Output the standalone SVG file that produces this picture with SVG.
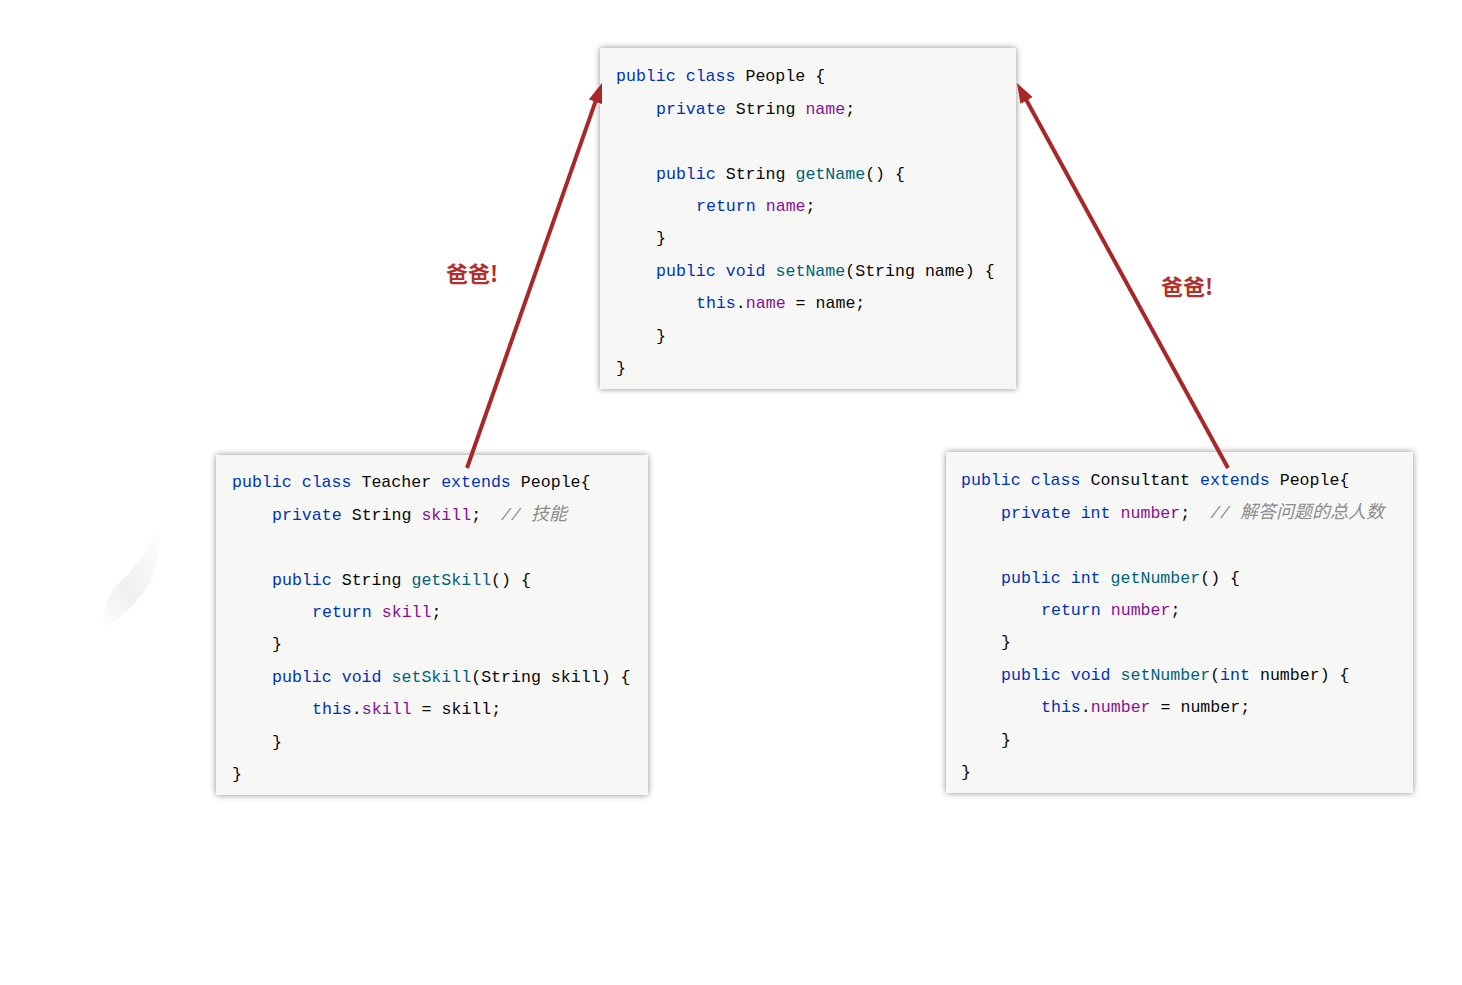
<svg xmlns="http://www.w3.org/2000/svg" width="1462" height="985" viewBox="0 0 1462 985">
<defs>
<style>
.box{fill:#f7f8f6;filter:url(#sh);}
.code{font-family:"Liberation Mono","DejaVu Sans Mono",monospace;font-size:16.6px;fill:#080808;white-space:pre;}
.k{fill:#0033b3;}
.f{fill:#871094;}
.m{fill:#00627a;}
.c{fill:#8c8c8c;font-style:italic;}
.cjk{font-family:"Liberation Mono","Noto Sans CJK SC",monospace;font-size:18px;}
.lbl{font-family:"Noto Sans CJK SC","Noto Sans",sans-serif;font-size:22px;font-weight:bold;fill:#b2302e;}
.arr{stroke:#a8282a;stroke-width:4;fill:none;marker-end:url(#ah);}
</style>
<filter id="sh" x="-5%" y="-5%" width="110%" height="110%">
<feDropShadow dx="0" dy="0" stdDeviation="3" flood-color="#000" flood-opacity="0.45"/>
</filter>
<marker id="ah" markerUnits="userSpaceOnUse" viewBox="0 0 20 14" markerWidth="20" markerHeight="14" refX="10" refY="7" orient="auto">
<path d="M0,0 L20,7 L0,14 z" fill="#a8282a"/>
</marker>
<linearGradient id="blob" x1="1" y1="0" x2="0" y2="1">
<stop offset="0" stop-color="#ffffff"/>
<stop offset="0.6" stop-color="#ececec"/>
<stop offset="1" stop-color="#ffffff"/>
</linearGradient>
</defs>
<rect width="1462" height="985" fill="#ffffff"/>
<path d="M160,522 C150,545 140,560 128,575 C115,585 108,595 104,612 L102,630 C120,620 140,600 152,580 C158,560 160,540 160,522 z" fill="url(#blob)" opacity="0.8"/>

<g id="people">
<rect class="box" x="600" y="48" width="416" height="341"/>
<text class="code" x="616" y="81"><tspan class="k">public class</tspan> People {</text>
<text class="code" x="656" y="114"><tspan class="k">private</tspan> String <tspan class="f">name</tspan>;</text>
<text class="code" x="656" y="179"><tspan class="k">public</tspan> String <tspan class="m">getName</tspan>() {</text>
<text class="code" x="696" y="211"><tspan class="k">return</tspan> <tspan class="f">name</tspan>;</text>
<text class="code" x="656" y="243">}</text>
<text class="code" x="656" y="276"><tspan class="k">public void</tspan> <tspan class="m">setName</tspan>(String name) {</text>
<text class="code" x="696" y="308"><tspan class="k">this</tspan>.<tspan class="f">name</tspan> = name;</text>
<text class="code" x="656" y="341">}</text>
<text class="code" x="616" y="373">}</text>
</g>

<g id="teacher">
<rect class="box" x="216" y="455" width="432" height="340"/>
<text class="code" x="232" y="487"><tspan class="k">public class</tspan> Teacher <tspan class="k">extends</tspan> People{</text>
<text class="code" x="272" y="520"><tspan class="k">private</tspan> String <tspan class="f">skill</tspan>;  <tspan class="c">// <tspan class="cjk">技能</tspan></tspan></text>
<text class="code" x="272" y="585"><tspan class="k">public</tspan> String <tspan class="m">getSkill</tspan>() {</text>
<text class="code" x="312" y="617"><tspan class="k">return</tspan> <tspan class="f">skill</tspan>;</text>
<text class="code" x="272" y="649">}</text>
<text class="code" x="272" y="682"><tspan class="k">public void</tspan> <tspan class="m">setSkill</tspan>(String skill) {</text>
<text class="code" x="312" y="714"><tspan class="k">this</tspan>.<tspan class="f">skill</tspan> = skill;</text>
<text class="code" x="272" y="747">}</text>
<text class="code" x="232" y="779">}</text>
</g>

<g id="consultant">
<rect class="box" x="946" y="452" width="467" height="341"/>
<text class="code" x="961" y="485"><tspan class="k">public class</tspan> Consultant <tspan class="k">extends</tspan> People{</text>
<text class="code" x="1001" y="518"><tspan class="k">private int</tspan> <tspan class="f">number</tspan>;  <tspan class="c">// <tspan class="cjk">解答问题的总人数</tspan></tspan></text>
<text class="code" x="1001" y="583"><tspan class="k">public int</tspan> <tspan class="m">getNumber</tspan>() {</text>
<text class="code" x="1041" y="615"><tspan class="k">return</tspan> <tspan class="f">number</tspan>;</text>
<text class="code" x="1001" y="647">}</text>
<text class="code" x="1001" y="680"><tspan class="k">public void</tspan> <tspan class="m">setNumber</tspan>(<tspan class="k">int</tspan> number) {</text>
<text class="code" x="1041" y="712"><tspan class="k">this</tspan>.<tspan class="f">number</tspan> = number;</text>
<text class="code" x="1001" y="745">}</text>
<text class="code" x="961" y="777">}</text>
</g>

<g id="connectors">
<line class="arr" x1="467" y1="468" x2="598.7" y2="92.4"/>
<line class="arr" x1="1228" y1="468" x2="1021.8" y2="91.8"/>
<text class="lbl" x="472" y="282" text-anchor="middle">爸爸!</text>
<text class="lbl" x="1187" y="295" text-anchor="middle">爸爸!</text>
</g>
</svg>
